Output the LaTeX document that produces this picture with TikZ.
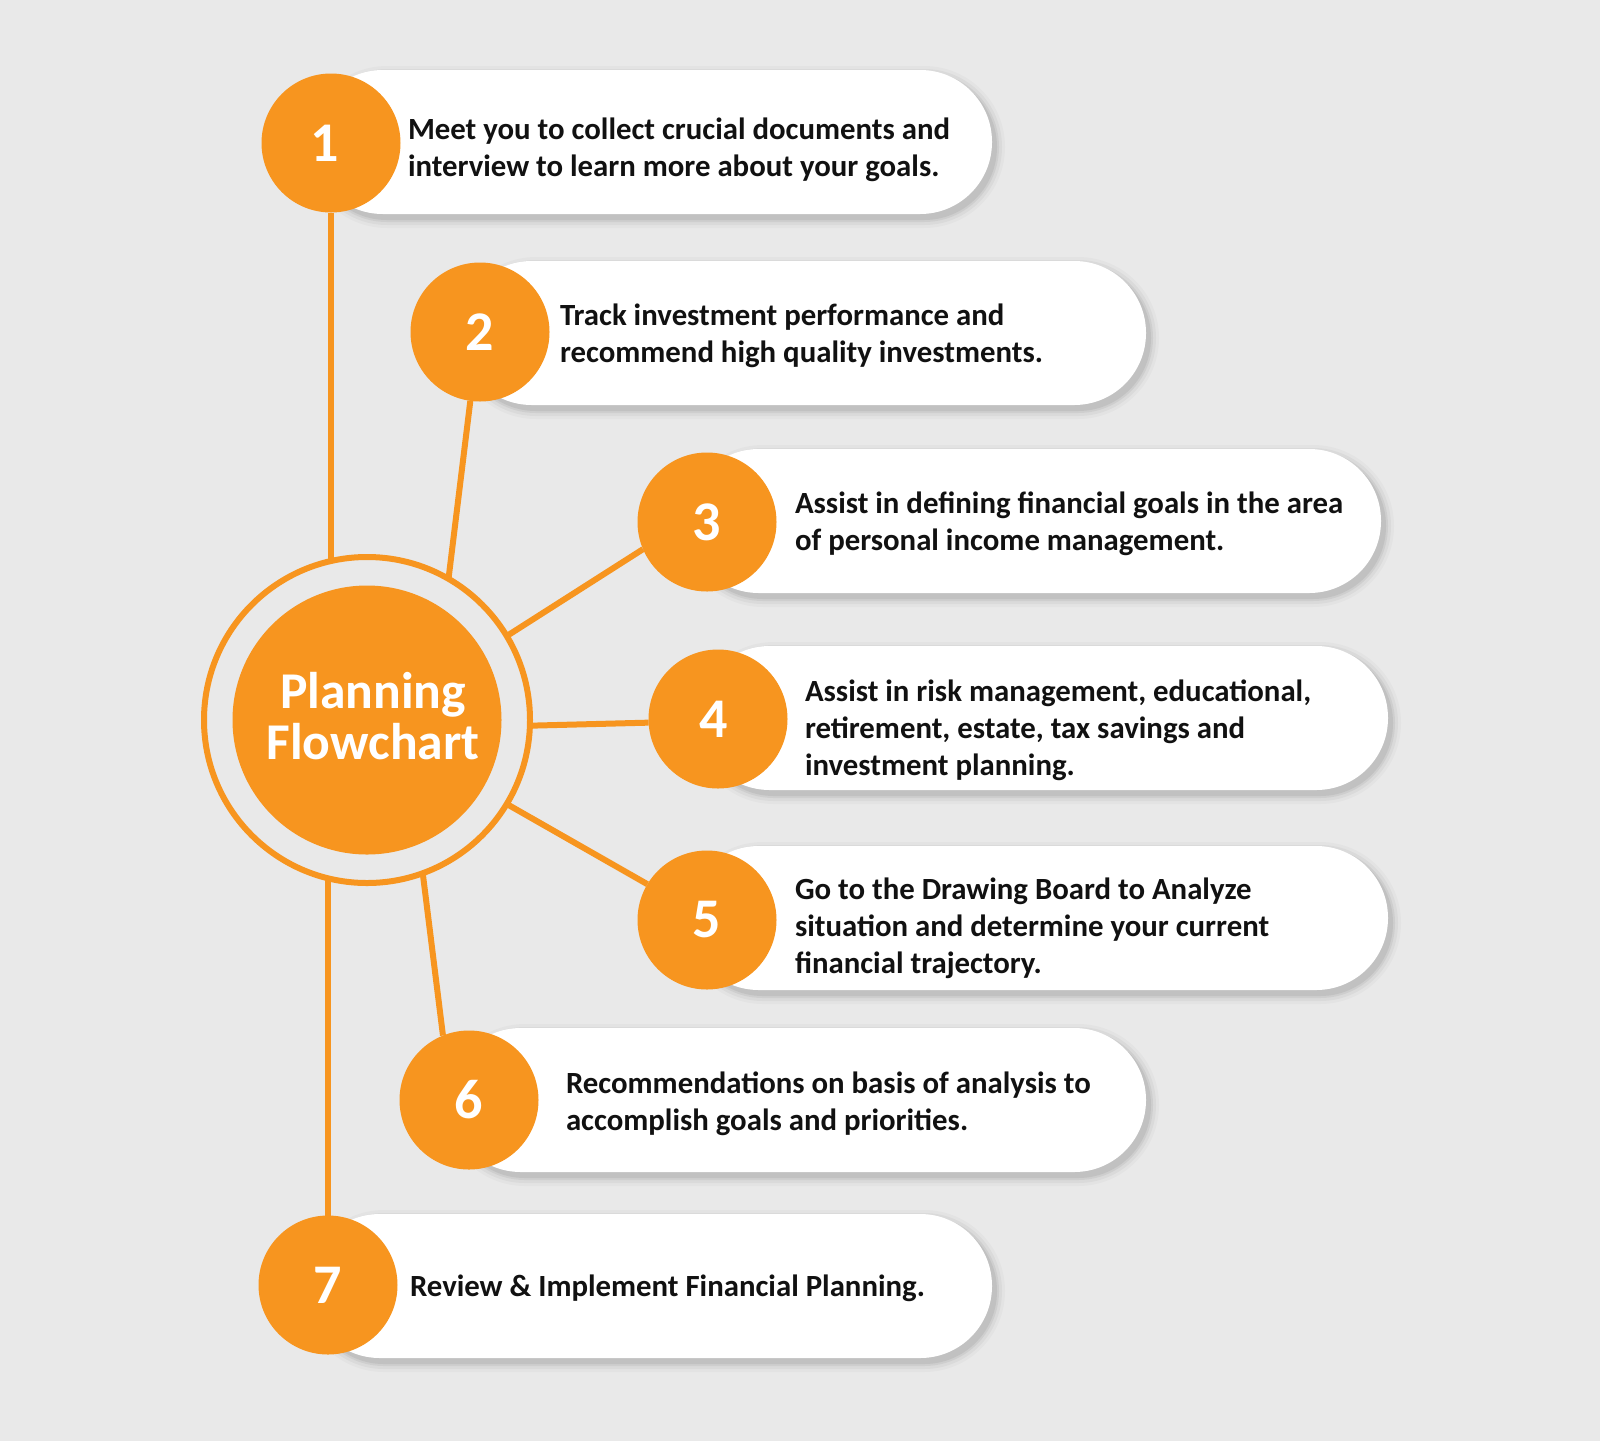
\documentclass[tikz,border=0pt]{standalone}
\usepackage{fontspec}
\setmainfont{Carlito}
\definecolor{org}{HTML}{F7951F}
\definecolor{bgc}{HTML}{E9E9E9}
\definecolor{txt}{HTML}{111111}
\newcommand\pillbox[3]{%
 \foreach \e/\o/\r in {9/0.025/40.4pt,6/0.035/38.9pt,3/0.05/37.4pt,1/0.06/36.4pt}{%
  \fill[black,opacity=\o,rounded corners=\r] (#1-20-\e+4,#2-72-\e+5) rectangle (#3+\e+4,#2+72+\e+5);}
 \fill[white,rounded corners=35.9pt] (#1-20,#2-72) rectangle (#3,#2+72);
}
\begin{document}
\begin{tikzpicture}[x=0.5pt,y=-0.5pt,
 num/.style={circle, fill=org, minimum size=69.5pt, inner sep=0pt, outer sep=0pt, text=white, font=\fontsize{28}{30}\selectfont\bfseries},
 desc/.style={anchor=west, align=left, inner sep=0pt, outer sep=0pt, text=txt, font=\fontsize{15.4}{18.5}\selectfont\bfseries},
 link/.style={draw=org, line width=3pt},
]
\useasboundingbox (0,0) rectangle (1600,1441);
\fill[bgc] (0,0) rectangle (1600,1441);
% pills
\pillbox{331}{142}{992}
\pillbox{480}{333}{1146}
\pillbox{707}{521}{1381}
\pillbox{718}{718}{1388}
\pillbox{707}{918}{1388}
\pillbox{469}{1100}{1146}
\pillbox{328}{1286}{992}
% number circles
\node[num] (c1) at (331,143) {\kern-6pt1};
\node[num] (c2) at (480,332) {2};
\node[num] (c3) at (707,522) {3};
\node[num] (c4) at (718,719) {\kern-4.5pt4};
\node[num] (c5) at (707,920) {5};
\node[num] (c6) at (469,1100) {6};
\node[num] (c7) at (328,1285) {7};
% hub
\node[circle, draw=org, line width=3pt, minimum size=163pt, inner sep=0pt, outer sep=0pt] (ring) at (367,720) {};
\node[circle, fill=org, minimum size=134.5pt, inner sep=0pt, outer sep=0pt] (hub) at (367,720) {};
\node[text=white, align=center, inner sep=0pt, font=\fontsize{25.8}{25.5}\selectfont\bfseries] (hubtext) at (373,716) {Planning\\Flowchart};
% connectors
\draw[link] (c1.south) -- (c1.south |- ring.103);
\draw[link] (c2.262) -- (ring.60);
\draw[link] (c3.203) -- (ring.31);
\draw[link] (c4.183) -- (ring.-2);
\draw[link] (c5.149) -- (ring.-31);
\draw[link] (c6.112) -- (ring.-70);
\draw[link] (c7.north) -- (c7.north |- ring.-103);
% texts
\node[desc] (t1) at (408,150) {Meet you to collect crucial documents and\\interview to learn more about your goals.};
\node[desc] (t2) at (560,336) {Track investment performance and\\recommend high quality investments.};
\node[desc] (t3) at (795,524) {Assist in defining financial goals in the area\\of personal income management.};
\node[desc] (t4) at (805,730) {Assist in risk management, educational,\\retirement, estate, tax savings and\\investment planning.};
\node[desc] (t5) at (795,928) {Go to the Drawing Board to Analyze\\situation and determine your current\\financial trajectory.};
\node[desc] (t6) at (566,1104) {Recommendations on basis of analysis to\\accomplish goals and priorities.};
\node[desc] (t7) at (410,1288) {Review \& Implement Financial Planning.};
\end{tikzpicture}
\end{document}
